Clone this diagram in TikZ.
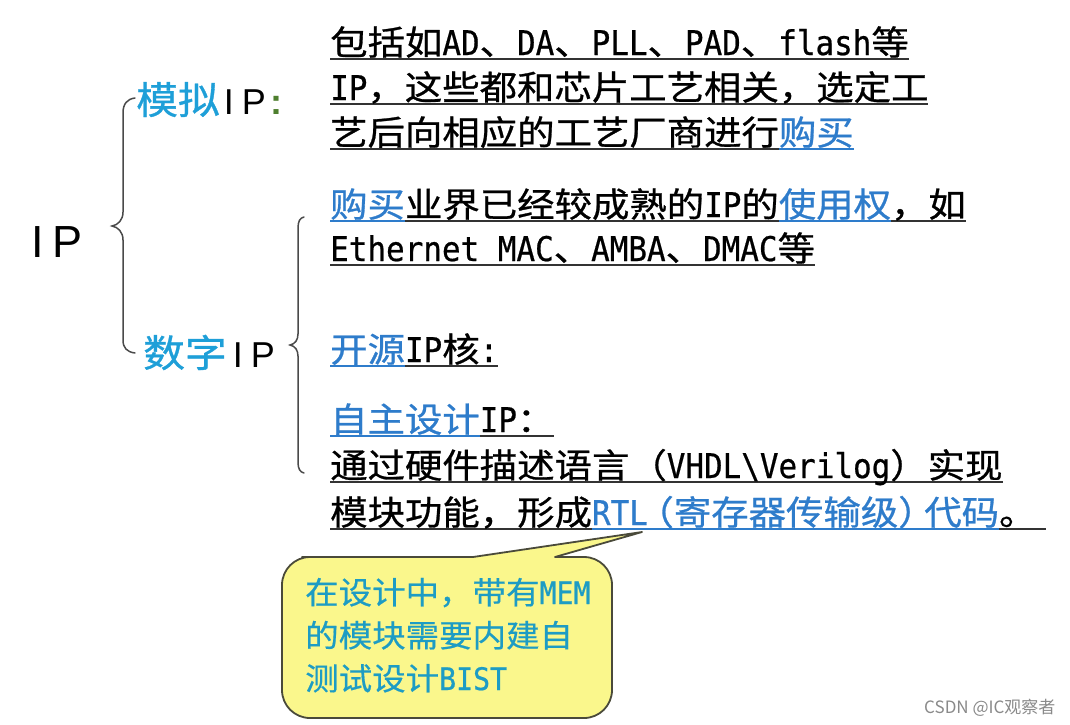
\documentclass[tikz,border=0pt]{standalone}
\usepackage{fontspec}
\newfontfamily\cjkf[FakeStretch=1.1,FakeBold=0.8]{Noto Sans CJK SC}
\newfontfamily\notef[FakeStretch=1.08,FakeBold=0.5]{Noto Sans CJK SC}
\newfontfamily\wmf{Noto Sans CJK SC}
\newfontfamily\monof[FakeStretch=0.91,FakeBold=0.6]{DejaVu Sans Mono}
\newfontfamily\labf{Liberation Sans}
\definecolor{cyanL}{HTML}{1E9FD8}
\definecolor{blueW}{HTML}{2E7CCB}
\definecolor{tealC}{HTML}{1D9CC4}
\definecolor{greenC}{HTML}{4E7F2E}
\definecolor{lineG}{HTML}{333333}
\definecolor{braceG}{HTML}{4A4A4A}
\definecolor{yellowF}{HTML}{FAF78C}
\definecolor{calloutB}{HTML}{4A4A3A}
\definecolor{wmG}{HTML}{8A8A8A}
\newcommand\lat[1]{{\monof #1}}
\newcommand\myul[2]{\setbox0=\hbox{#2}\rlap{\color{#1}\rule[-5pt]{\wd0}{2pt}}\box0}
\newcommand\bl[1]{\myul{blueW}{\textcolor{blueW}{#1}}}
\newcommand\bk[1]{\myul{lineG}{#1}}
\newcommand\hop{\hbox to 26pt{\hss （}}
\newcommand\hcp{\hbox to 26pt{）\hss}}
\tikzset{
  body/.style={anchor=base west, inner sep=0pt, font=\cjkf\fontsize{34}{40}\selectfont, text=black},
  lab/.style={anchor=base west, inner sep=0pt, font=\cjkf\fontsize{38}{44}\selectfont},
  note/.style={anchor=base west, inner sep=0pt, font=\notef\fontsize{31}{40}\selectfont, text=tealC},
  bracepath/.style={draw=braceG, line width=1.5pt, line cap=round},
  callout/.style={draw=calloutB, line width=1.8pt, fill=yellowF, line join=round}
}
\begin{document}
\begin{tikzpicture}[x=1pt,y=-1pt]
\useasboundingbox (0,0) rectangle (1070,724);
\fill[white] (0,0) rectangle (1070,724);

% left labels
\node[anchor=base west, inner sep=0pt, font=\labf\fontsize{45}{50}\selectfont] (ip) at (31,257) {I\hspace{9pt}P};
\node[lab] (analog) at (136,114) {\textcolor{cyanL}{模拟}{\labf\fontsize{36}{40}\selectfont\hspace{4pt}I\hspace{8pt}P\hspace{5pt}\textcolor{greenC}{\textbf{:}}}};
\node[lab] (digital) at (143,367) {\textcolor{cyanL}{数字}{\labf\fontsize{36}{40}\selectfont\hspace{6pt}I\hspace{8pt}P}};

% braces
\draw[bracepath] (135,98) .. controls (127,99) and (123,104) .. (123,113) -- (123,212) .. controls (123,220) and (118,225) .. (112,226) .. controls (118,227) and (123,232) .. (123,240) -- (123,340) .. controls (123,348) and (127,352) .. (135,353);
\draw[bracepath] (304,217) .. controls (300,218) and (298,221) .. (298,228) -- (298,334) .. controls (298,340) and (295,344) .. (290,345) .. controls (295,346) and (298,350) .. (298,356) -- (298,462) .. controls (298,469) and (300,472) .. (304,473);

% right text
\node[body] (t1) at (330,55) {\bk{包括如\lat{AD}、\lat{DA}、\lat{PLL}、\lat{PAD}、\lat{flash}等}};
\node[body] (t2) at (330,100) {\bk{\lat{IP}，这些都和芯片工艺相关，选定工}};
\node[body] (t3) at (330,145) {\bk{艺后向相应的工艺厂商进行}\bl{购买}};
\node[body] (t4) at (330,217) {\bl{购买}\bk{业界已经较成熟的\lat{IP}的}\bl{使用权}\bk{，如}};
\node[body] (t5) at (330,261) {\bk{\lat{Ethernet MAC}、\lat{AMBA}、\lat{DMAC}等}};
\node[body] (t6) at (330,362) {\bl{开源}\bk{\lat{IP}核\lat{:}}};
\node[body] (t7) at (330,432) {\bl{自主设计}\bk{\lat{IP}：}};
\node[body] (t8) at (330,478) {\bk{通过硬件描述语言（\lat{VHDL\textbackslash Verilog}）实现}};
\node[body] (t9) at (330,525) {\bk{模块功能，形成}\bl{\lat{RTL}\hop 寄存器传输级\hcp 代码}\bk{。\hspace{10pt}}};

% callout
\coordinate (tip) at (642,532);
\draw[callout] (473,557) -- (tip) -- (555,557) -- (570,557) [rounded corners=28pt] -- (612,557) -- (612,718) -- (282,718) -- (282,557) -- (330,557) [sharp corners] -- cycle;
\node[note] (n1) at (305,604) {在设计中，带有\lat{MEM}};
\node[note] (n2) at (305,647) {的模块需要内建自};
\node[note] (n3) at (305,690) {测试设计\lat{BIST}};

% watermark
\node[anchor=base west, inner sep=0pt, font=\wmf\fontsize{17}{19}\selectfont, text=wmG] (wm) at (924,713) {CSDN @IC观察者};
\end{tikzpicture}
\end{document}
